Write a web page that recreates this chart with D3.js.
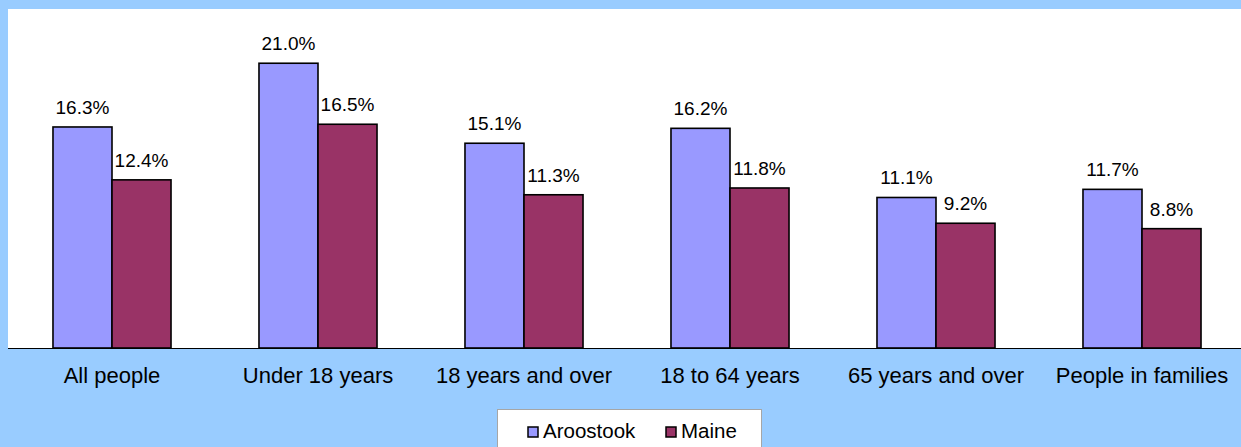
<!DOCTYPE html>
<html>
<head>
<meta charset="utf-8">
<script src="https://cdn.jsdelivr.net/npm/d3@7"></script>
<style>
  body { margin: 0; background: #99ccff; }
  svg { display: block; font-family: "Liberation Sans", Arial, sans-serif; }
</style>
</head>
<body>
<div id="chart"></div>
<script>
var categories = ["All people", "Under 18 years", "18 years and over", "18 to 64 years", "65 years and over", "People in families"];
var seriesNames = ["Aroostook", "Maine"];
var aroostook = [16.3, 21.0, 15.1, 16.2, 11.1, 11.7];
var maine = [12.4, 16.5, 11.3, 11.8, 9.2, 8.8];
var colors = ["#9999ff", "#993366"];

var width = 1241, height = 447;
var plot = { left: 8, top: 9, right: 1245, bottom: 348 };

var svg = d3.select("#chart").append("svg")
    .attr("width", width)
    .attr("height", height);

svg.append("rect")
    .attr("width", width)
    .attr("height", height)
    .attr("fill", "#99ccff");

svg.append("rect")
    .attr("x", plot.left)
    .attr("y", plot.top)
    .attr("width", width - plot.left)
    .attr("height", plot.bottom - plot.top)
    .attr("fill", "#ffffff");

var data = categories.map(function(c, i) {
    return { cat: c, values: [aroostook[i], maine[i]] };
});

var x0 = d3.scaleBand()
    .domain(categories)
    .range([plot.left + 1, plot.right])
    .paddingInner(0.427)
    .paddingOuter(0.2135);

var x1 = d3.scaleBand()
    .domain(seriesNames)
    .range([0, x0.bandwidth()]);

var y = d3.scaleLinear()
    .domain([0, 25])
    .range([plot.bottom, plot.top]);

var groups = svg.selectAll(".group")
    .data(data)
    .enter()
    .append("g")
    .attr("class", "group")
    .attr("transform", function(d) { return "translate(" + x0(d.cat) + ",0)"; });

groups.selectAll("rect")
    .data(function(d) { return d.values.map(function(v, j) { return { name: seriesNames[j], value: v, j: j }; }); })
    .enter()
    .append("rect")
    .attr("x", function(d) { return x1(d.name); })
    .attr("y", function(d) { return y(d.value); })
    .attr("width", x1.bandwidth())
    .attr("height", function(d) { return plot.bottom - y(d.value); })
    .attr("fill", function(d) { return colors[d.j]; })
    .attr("stroke", "#000")
    .attr("stroke-width", 1.6);

groups.selectAll("text.val")
    .data(function(d) { return d.values.map(function(v, j) { return { name: seriesNames[j], value: v }; }); })
    .enter()
    .append("text")
    .attr("class", "val")
    .attr("x", function(d) { return x1(d.name) + x1.bandwidth() / 2; })
    .attr("y", function(d) { return y(d.value) - 13; })
    .attr("text-anchor", "middle")
    .attr("font-size", "19px")
    .attr("fill", "#000")
    .text(function(d) { return d3.format(".1f")(d.value) + "%"; });

var xAxis = d3.axisBottom(x0).tickSize(0).tickSizeOuter(0).tickPadding(0);

var ax = svg.append("g")
    .attr("class", "x-axis")
    .attr("transform", "translate(0," + plot.bottom + ")")
    .call(xAxis);

ax.select(".domain")
    .attr("d", "M" + plot.left + ",0.5H" + width)
    .attr("stroke", "#000")
    .attr("stroke-width", 1.2);

ax.selectAll("text")
    .attr("y", 0)
    .attr("dy", "34.5px")
    .attr("font-size", "22px")
    .attr("font-family", "Liberation Sans, Arial, sans-serif")
    .attr("fill", "#000");

// legend
var legend = svg.append("g").attr("class", "legend");

legend.append("rect")
    .attr("x", 497.5)
    .attr("y", 409.5)
    .attr("width", 264)
    .attr("height", 50)
    .attr("fill", "#fff")
    .attr("stroke", "#a6a6a6")
    .attr("stroke-width", 1);

var legendX = [528, 666];
var items = legend.selectAll(".item")
    .data(seriesNames)
    .enter()
    .append("g")
    .attr("class", "item")
    .attr("transform", function(d, i) { return "translate(" + legendX[i] + ",0)"; });

items.append("rect")
    .attr("x", 0)
    .attr("y", 427)
    .attr("width", 10)
    .attr("height", 10)
    .attr("fill", function(d, i) { return colors[i]; })
    .attr("stroke", "#000")
    .attr("stroke-width", 1.5);

items.append("text")
    .attr("x", 15)
    .attr("y", 438)
    .attr("font-size", "20.5px")
    .attr("fill", "#000")
    .text(function(d) { return d; });
</script>
</body>
</html>
